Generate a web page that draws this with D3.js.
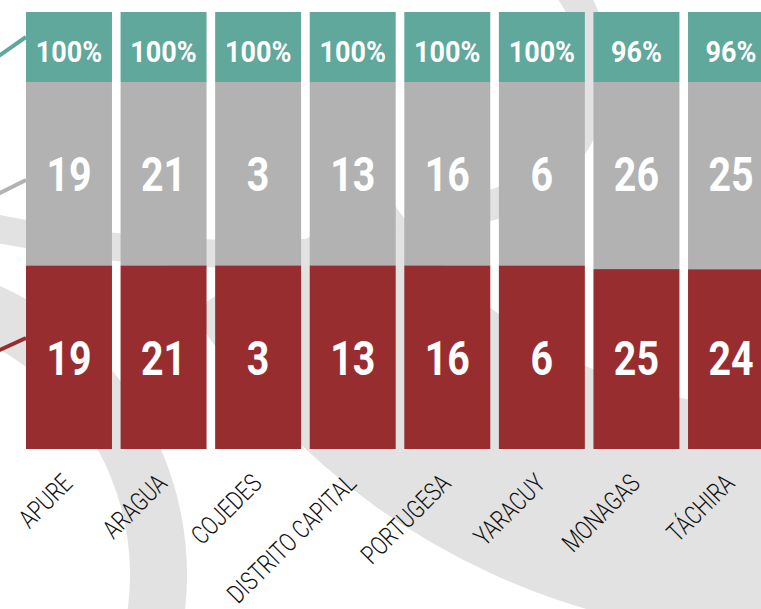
<!DOCTYPE html>
<html>
<head>
<meta charset="utf-8">
<script src="https://cdn.jsdelivr.net/npm/d3@7"></script>
<style>
body { margin: 0; background: #fff; }
svg { display: block; }
</style>
</head>
<body>
<svg id="chart"></svg>
<script>
let width = 761;
let height = 609;

// datos por estado
let states = ['APURE', 'ARAGUA', 'COJEDES', 'DISTRITO CAPITAL', 'PORTUGESA', 'YARACUY', 'MONAGAS', 'TÁCHIRA'];
let totals = [19, 21, 3, 13, 16, 6, 26, 25];
let values = [19, 21, 3, 13, 16, 6, 25, 24];

let color = {
    teal: '#5fa89b',
    grey: '#b2b2b2',
    red: '#972d2f',
    ring: '#e2e2e2'
};

let svg = d3.select('#chart')
    .attr('width', width)
    .attr('height', height);

// arcos decorativos del fondo
let rings = [
    {cx: -130, cy: 575, r0: 260, r1: 317, a0: 0, a1: 2 * Math.PI},
    {cx: 782, cy: -61, r0: 470, r1: 698, a0: 2.6, a1: 4.15},
    {cx: 455, cy: 70, r0: 125, r1: 155, a0: 0, a1: 3.4},
    {cx: 250, cy: -1022, r0: 1262, r1: 1290, a0: 3.02, a1: 3.40}
];
let arc = d3.arc();
svg.append('g')
    .selectAll('path')
    .data(rings)
    .join('path')
    .attr('transform', d => `translate(${d.cx},${d.cy})`)
    .attr('d', d => arc({innerRadius: d.r0, outerRadius: d.r1, startAngle: d.a0, endAngle: d.a1}))
    .attr('fill', color.ring);

let rows = states.map((s, i) => ({
    state: s,
    total: totals[i],
    value: values[i],
    share: values[i] / (values[i] + totals[i])
}));

let x = d3.scaleBand()
    .domain(states)
    .range([26, 774])
    .paddingInner(0.091);
let y = d3.scaleLinear()
    .domain([0, 1])
    .range([449, 82]);
let boxTop = 12;
let bw = x.bandwidth();

// lineas que vienen de la izquierda
let x0 = x.range()[0];
let connectors = [
    {c: color.teal, pts: [[-20, 69], [x0, 37]]},
    {c: color.grey, pts: [[-20, 203], [x0, 180]]},
    {c: color.red, pts: [[-20, 359], [x0, 338]]}
];
svg.append('g')
    .attr('fill', 'none')
    .attr('stroke-width', 4)
    .selectAll('path')
    .data(connectors)
    .join('path')
    .attr('stroke', d => d.c)
    .attr('d', d => d3.line()(d.pts));

let fmt = d3.format('.0%');

let col = svg.append('g')
    .selectAll('g')
    .data(rows)
    .join('g')
    .attr('transform', d => `translate(${x(d.state)},0)`);

col.append('rect')
    .attr('y', boxTop)
    .attr('width', bw)
    .attr('height', y(1) - boxTop)
    .attr('fill', color.teal);

col.append('rect')
    .attr('y', y(1))
    .attr('width', bw)
    .attr('height', d => y(d.share) - y(1))
    .attr('fill', color.grey);

col.append('rect')
    .attr('y', d => y(d.share))
    .attr('width', bw)
    .attr('height', d => y(0) - y(d.share))
    .attr('fill', color.red);

function label(sel, ty, size, sx, txt) {
    sel.append('g')
        .attr('transform', `translate(${bw / 2},${ty}) scale(${sx},1)`)
        .append('text')
        .attr('text-anchor', 'middle')
        .style('font-family', 'Roboto, sans-serif')
        .style('font-weight', 700)
        .style('font-size', size + 'px')
        .attr('fill', '#fff')
        .text(txt);
}
label(col, boxTop + 50, 30, 0.9, d => fmt(d.value / d.total));
label(col, y(0.75) + 17.5, 48, 0.82, d => d.total);
label(col, y(0.25) + 17.5, 48, 0.82, d => d.value);

// nombres de estados, girados
svg.append('g')
    .selectAll('g')
    .data(states)
    .join('g')
    .attr('transform', d => `translate(${x(d) + bw / 2 + 5},485) rotate(-45) scale(0.78,1)`)
    .append('text')
    .attr('text-anchor', 'end')
    .style('font-family', 'Roboto, sans-serif')
    .style('font-weight', 300)
    .style('font-size', '26px')
    .attr('fill', '#111')
    .text(d => d);
</script>
</body>
</html>
